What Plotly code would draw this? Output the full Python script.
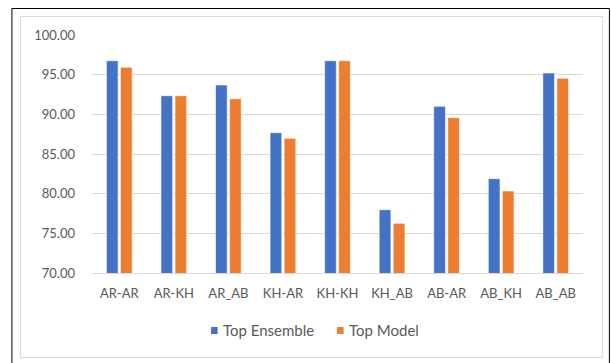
import plotly.graph_objects as go

categories = ["AR-AR", "AR-KH", "AR_AB", "KH-AR", "KH-KH", "KH_AB", "AB-AR", "AB_KH", "AB_AB"]
top_ensemble = [96.76, 92.35, 93.70, 87.69, 96.76, 77.98, 91.01, 81.89, 95.21]
top_model = [95.93, 92.35, 91.97, 86.97, 96.76, 76.26, 89.58, 80.34, 94.54]
series_names = ["Top Ensemble", "Top Model"]
series_colors = ["#4472C4", "#ED7D31"]
y_ticks = [70, 75, 80, 85, 90, 95, 100]
y_tick_labels = ["70.00", "75.00", "80.00", "85.00", "90.00", "95.00", "100.00"]

W, H = 611, 363
L, R, T, B = 91.6, 582.6, 35.0, 273.0


def px2x(px):
    return (px - L) / (R - L)


def px2y(py):
    return (B - py) / (B - T)


fam = "Lato, Open Sans, Liberation Sans, sans-serif"
tick_font = dict(family=fam, size=13, color="#595959")
leg_font = dict(family=fam, size=15, color="#595959")

fig = go.Figure()
for name, vals, col in zip(series_names, [top_ensemble, top_model], series_colors):
    fig.add_trace(go.Bar(x=categories, y=vals, name=name, showlegend=False,
                         marker=dict(color=col, line=dict(color="white", width=0.6))))

shapes = [
    dict(type="rect", xref="paper", yref="paper",
         x0=px2x(20), x1=px2x(602), y0=px2y(357.5), y1=px2y(16.5),
         line=dict(color="#D9D9D9", width=1), fillcolor="rgba(0,0,0,0)", layer="below"),
    dict(type="rect", xref="paper", yref="paper",
         x0=px2x(11.5), x1=px2x(609), y0=px2y(366), y1=px2y(8.5),
         line=dict(color="black", width=1), fillcolor="rgba(0,0,0,0)", layer="below"),
]
annotations = []
legend_x = [210.7, 336.7]
for name, col, lx in zip(series_names, series_colors, legend_x):
    shapes.append(dict(type="rect", xref="paper", yref="paper",
                       x0=px2x(lx), x1=px2x(lx + 6.5), y0=px2y(334), y1=px2y(327),
                       line=dict(width=0), fillcolor=col))
    annotations.append(dict(text=name, xref="paper", yref="paper", showarrow=False,
                            x=px2x(lx + 9.5), y=px2y(329.5), xanchor="left", yanchor="middle",
                            font=leg_font))

fig.update_layout(
    width=W, height=H,
    margin=dict(l=L, r=W - R, t=T, b=H - B, pad=0),
    paper_bgcolor="white", plot_bgcolor="white",
    barmode="group", bargap=0.485, bargroupgap=0.167,
    font=tick_font,
    showlegend=False,
    xaxis=dict(showgrid=False, showline=True, linecolor="#D9D9D9", linewidth=1,
               ticks="", tickfont=tick_font, ticklabelstandoff=8),
    yaxis=dict(range=[70, 100], tickvals=y_ticks, ticktext=y_tick_labels,
               showgrid=True, gridcolor="#D9D9D9", gridwidth=1, zeroline=False,
               showline=False, ticks="", tickfont=tick_font, ticklabelstandoff=16),
    shapes=shapes,
    annotations=annotations,
)

fig.write_html("out.html", config={"displayModeBar": False},
               post_script="document.body.style.margin='0px';document.body.style.overflow='hidden';")
